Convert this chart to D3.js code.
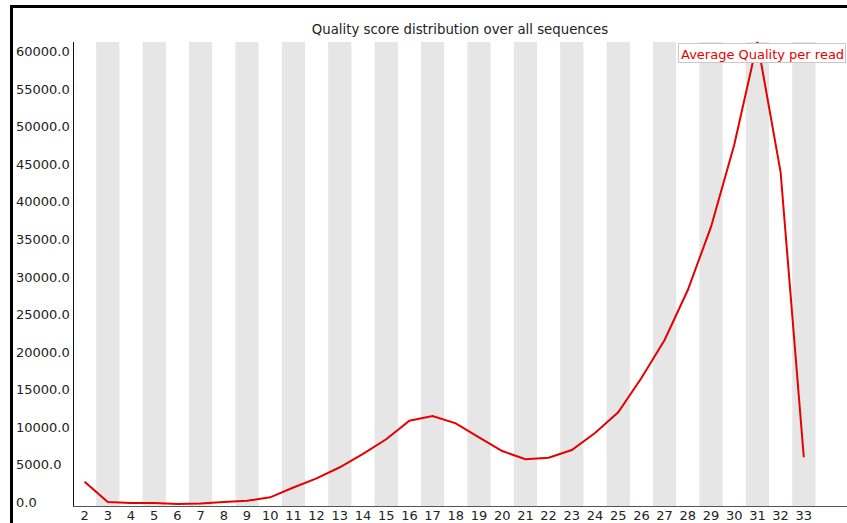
<!DOCTYPE html>
<html>
<head>
<meta charset="utf-8">
<script src="https://cdn.jsdelivr.net/npm/d3@7"></script>
<style>
  html, body { margin: 0; padding: 0; background: #fff; }
  svg { display: block; }
  text { font-family: "DejaVu Sans", sans-serif; }
</style>
</head>
<body>
<svg id="chart" width="847" height="523"></svg>
<script>
// Mean quality score per read (x) vs. number of reads (y)
const qualities = [2, 3, 4, 5, 6, 7, 8, 9, 10, 11, 12, 13, 14, 15, 16, 17,
                   18, 19, 20, 21, 22, 23, 24, 25, 26, 27, 28, 29, 30, 31, 32, 33];
const readCounts = [3100, 400, 270, 270, 130, 200, 400, 570, 1020, 2330, 3550, 5020,
                    6790, 8740, 11220, 11840, 10870, 9010, 7180, 6080, 6290, 7320,
                    9580, 12330, 16900, 21950, 28600, 37000, 47900, 61600, 44300, 6350];
const yTicks = [0, 5000, 10000, 15000, 20000, 25000, 30000, 35000, 40000, 45000, 50000, 55000, 60000];
const chartTitle = "Quality score distribution over all sequences";
const seriesName = "Average Quality per read";

const svg = d3.select("#chart");
const W = 847, H = 523;
const plot = { left: 73, right: 815.4, top: 42, bottom: 505, axisY: 506 };

const x = d3.scaleBand().domain(qualities).range([plot.left, plot.right]).padding(0);
const y = d3.scaleLinear().domain([0, d3.max(readCounts)]).range([plot.bottom, plot.top]);

// alternating background stripes
svg.append("g").selectAll("rect")
  .data(qualities.filter((d, i) => i % 2 === 1))
  .join("rect")
  .attr("x", d => x(d))
  .attr("y", plot.top)
  .attr("width", x.bandwidth())
  .attr("height", plot.axisY - plot.top)
  .attr("fill", "#e6e6e6");

// title
svg.append("text")
  .attr("x", 460).attr("y", 34)
  .attr("text-anchor", "middle")
  .attr("font-size", 13.3)
  .attr("fill", "#222")
  .text(chartTitle);

// y axis: labels left-aligned in the margin
const yAxis = svg.append("g")
  .attr("transform", `translate(${plot.left},0)`)
  .call(d3.axisLeft(y).tickValues(yTicks).tickSize(0).tickFormat(d3.format(".1f")));
yAxis.select(".domain").remove();
yAxis.selectAll("text")
  .attr("x", 16 - plot.left)
  .attr("dy", "0.12em")
  .attr("text-anchor", "start")
  .attr("font-size", 13)
  .attr("font-family", "DejaVu Sans, sans-serif")
  .attr("fill", "#222");

svg.append("line")
  .attr("x1", plot.left + 0.5).attr("x2", plot.left + 0.5)
  .attr("y1", plot.top).attr("y2", plot.axisY)
  .attr("stroke", "#111").attr("stroke-width", 1);

// x axis
const xAxis = svg.append("g")
  .attr("transform", `translate(0,${plot.axisY})`)
  .call(d3.axisBottom(x).tickSize(0));
xAxis.select(".domain").remove();
xAxis.selectAll("text")
  .attr("y", 5)
  .attr("dy", "0.71em")
  .attr("font-size", 13)
  .attr("font-family", "DejaVu Sans, sans-serif")
  .attr("fill", "#222");

svg.append("line")
  .attr("x1", plot.left).attr("x2", W)
  .attr("y1", plot.axisY + 0.5).attr("y2", plot.axisY + 0.5)
  .attr("stroke", "#555").attr("stroke-width", 1);

// series line
const line = d3.line()
  .x((d, i) => x(qualities[i]) + x.bandwidth() / 2)
  .y(d => y(d));
svg.append("path")
  .datum(readCounts)
  .attr("d", line)
  .attr("fill", "none")
  .attr("stroke", "#e60000")
  .attr("stroke-width", 2);

// legend
const legend = svg.append("g");
legend.append("rect")
  .attr("x", 678.5).attr("y", 43.5)
  .attr("width", 167).attr("height", 19)
  .attr("fill", "#fff")
  .attr("stroke", "#c8c8c8");
legend.append("text")
  .attr("x", 681).attr("y", 58.5)
  .attr("font-size", 13)
  .attr("fill", "#e60000")
  .text(seriesName);

// outer frame (top and left edges)
svg.append("line")
  .attr("x1", 10).attr("x2", W).attr("y1", 6.5).attr("y2", 6.5)
  .attr("stroke", "#000").attr("stroke-width", 3);
svg.append("line")
  .attr("x1", 11.5).attr("x2", 11.5).attr("y1", 5).attr("y2", H)
  .attr("stroke", "#000").attr("stroke-width", 3);
</script>
</body>
</html>
